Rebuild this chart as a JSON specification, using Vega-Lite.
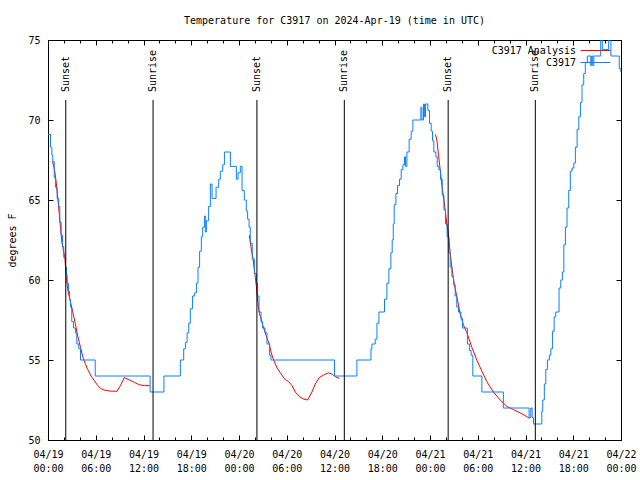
{
  "$schema": "https://vega.github.io/schema/vega-lite/v6.json",
  "width": 573,
  "height": 400,
  "autosize": {"type": "none"},
  "padding": {"left": 48, "top": 40, "right": 19, "bottom": 40},
  "background": "white",
  "title": {"text": "Temperature for C3917 on 2024-Apr-19 (time in UTC)", "font": "DejaVu Sans Mono", "fontSize": 10, "fontWeight": "normal", "color": "black", "offset": 1, "baseline": "alphabetic", "anchor": "middle", "frame": "group"},
  "config": {
    "view": {"stroke": "black", "strokeWidth": 1},
    "font": "DejaVu Sans Mono",
    "axis": {"domain": false, "grid": false, "title": null, "ticks": true, "tickColor": "black", "tickWidth": 1, "labelColor": "black", "labelFont": "DejaVu Sans Mono", "labelFontSize": 10, "labelOverlap": false, "labelFlush": false, "labelBound": false},
    "legend": {"labelFont": "DejaVu Sans Mono", "labelFontSize": 10, "labelColor": "black"}
  },
  "datasets": {
    "obs": [
      {"t":"2024-04-19T00:00Z","v":69.1},{"t":"2024-04-19T00:19Z","v":68.3},{"t":"2024-04-19T00:29Z","v":67.8},{"t":"2024-04-19T00:36Z","v":67.4},{"t":"2024-04-19T00:47Z","v":66.4},{"t":"2024-04-19T00:56Z","v":65.8},{"t":"2024-04-19T01:09Z","v":65.1},{"t":"2024-04-19T01:21Z","v":64.6},{"t":"2024-04-19T01:29Z","v":63.6},{"t":"2024-04-19T01:39Z","v":62.8},{"t":"2024-04-19T01:49Z","v":62.1},{"t":"2024-04-19T01:59Z","v":61.4},{"t":"2024-04-19T02:12Z","v":60.8},{"t":"2024-04-19T02:19Z","v":60.3},{"t":"2024-04-19T02:25Z","v":59.8},{"t":"2024-04-19T02:34Z","v":59.3},{"t":"2024-04-19T02:42Z","v":58.8},{"t":"2024-04-19T02:50Z","v":58.3},{"t":"2024-04-19T02:59Z","v":57.4},{"t":"2024-04-19T03:12Z","v":57.0},{"t":"2024-04-19T03:27Z","v":56.7},{"t":"2024-04-19T03:37Z","v":56.0},{"t":"2024-04-19T03:52Z","v":55.7},{"t":"2024-04-19T04:05Z","v":55.0},{"t":"2024-04-19T05:56Z","v":54.0},{"t":"2024-04-19T12:50Z","v":53.0},{"t":"2024-04-19T14:34Z","v":54.0},{"t":"2024-04-19T16:38Z","v":55.0},{"t":"2024-04-19T17:03Z","v":55.7},{"t":"2024-04-19T17:16Z","v":56.1},{"t":"2024-04-19T17:29Z","v":56.7},{"t":"2024-04-19T17:41Z","v":57.3},{"t":"2024-04-19T17:53Z","v":58.2},{"t":"2024-04-19T18:09Z","v":59.0},{"t":"2024-04-19T18:26Z","v":59.2},{"t":"2024-04-19T18:39Z","v":59.8},{"t":"2024-04-19T18:51Z","v":60.8},{"t":"2024-04-19T19:03Z","v":61.8},{"t":"2024-04-19T19:16Z","v":62.7},{"t":"2024-04-19T19:26Z","v":63.3},{"t":"2024-04-19T19:39Z","v":64.0},{"t":"2024-04-19T19:46Z","v":63.0},{"t":"2024-04-19T19:54Z","v":63.7},{"t":"2024-04-19T20:11Z","v":64.6},{"t":"2024-04-19T20:24Z","v":66.0},{"t":"2024-04-19T20:37Z","v":65.1},{"t":"2024-04-19T21:07Z","v":65.8},{"t":"2024-04-19T21:27Z","v":66.3},{"t":"2024-04-19T21:39Z","v":66.8},{"t":"2024-04-19T21:57Z","v":67.2},{"t":"2024-04-19T22:10Z","v":68.0},{"t":"2024-04-19T22:55Z","v":67.1},{"t":"2024-04-19T23:40Z","v":66.3},{"t":"2024-04-19T23:53Z","v":66.7},
      {"t":"2024-04-20T00:10Z","v":67.1},{"t":"2024-04-20T00:23Z","v":65.6},{"t":"2024-04-20T00:40Z","v":65.0},{"t":"2024-04-20T00:55Z","v":64.3},{"t":"2024-04-20T01:05Z","v":63.8},{"t":"2024-04-20T01:16Z","v":63.3},{"t":"2024-04-20T01:25Z","v":62.3},{"t":"2024-04-20T01:40Z","v":61.3},{"t":"2024-04-20T01:56Z","v":60.4},{"t":"2024-04-20T02:11Z","v":59.8},{"t":"2024-04-20T02:20Z","v":59.0},{"t":"2024-04-20T02:31Z","v":58.0},{"t":"2024-04-20T02:46Z","v":57.4},{"t":"2024-04-20T02:58Z","v":57.0},{"t":"2024-04-20T03:16Z","v":56.7},{"t":"2024-04-20T03:31Z","v":56.0},{"t":"2024-04-20T03:51Z","v":55.3},{"t":"2024-04-20T04:01Z","v":55.0},{"t":"2024-04-20T12:00Z","v":54.0},{"t":"2024-04-20T14:49Z","v":55.0},{"t":"2024-04-20T16:35Z","v":55.7},{"t":"2024-04-20T16:42Z","v":56.0},{"t":"2024-04-20T17:07Z","v":56.3},{"t":"2024-04-20T17:20Z","v":57.3},{"t":"2024-04-20T17:35Z","v":58.0},{"t":"2024-04-20T18:17Z","v":58.8},{"t":"2024-04-20T18:35Z","v":59.8},{"t":"2024-04-20T18:50Z","v":60.7},{"t":"2024-04-20T19:05Z","v":61.7},{"t":"2024-04-20T19:15Z","v":62.5},{"t":"2024-04-20T19:23Z","v":63.5},{"t":"2024-04-20T19:30Z","v":64.7},{"t":"2024-04-20T19:43Z","v":65.4},{"t":"2024-04-20T19:55Z","v":65.9},{"t":"2024-04-20T20:10Z","v":66.3},{"t":"2024-04-20T20:23Z","v":66.9},{"t":"2024-04-20T20:36Z","v":67.2},{"t":"2024-04-20T20:48Z","v":67.7},{"t":"2024-04-20T20:55Z","v":67.1},{"t":"2024-04-20T21:06Z","v":68.0},{"t":"2024-04-20T21:23Z","v":68.8},{"t":"2024-04-20T21:38Z","v":69.3},{"t":"2024-04-20T21:51Z","v":70.0},{"t":"2024-04-20T22:51Z","v":70.8},{"t":"2024-04-20T22:59Z","v":70.0},{"t":"2024-04-20T23:11Z","v":71.0},{"t":"2024-04-20T23:18Z","v":70.2},{"t":"2024-04-20T23:26Z","v":71.0},{"t":"2024-04-20T23:44Z","v":70.6},{"t":"2024-04-20T23:56Z","v":69.8},
      {"t":"2024-04-21T00:09Z","v":69.3},{"t":"2024-04-21T00:19Z","v":68.7},{"t":"2024-04-21T00:29Z","v":68.0},{"t":"2024-04-21T00:44Z","v":67.7},{"t":"2024-04-21T00:54Z","v":67.1},{"t":"2024-04-21T01:07Z","v":66.9},{"t":"2024-04-21T01:19Z","v":66.3},{"t":"2024-04-21T01:32Z","v":65.3},{"t":"2024-04-21T01:45Z","v":64.4},{"t":"2024-04-21T01:57Z","v":63.5},{"t":"2024-04-21T02:09Z","v":62.7},{"t":"2024-04-21T02:22Z","v":61.7},{"t":"2024-04-21T02:32Z","v":60.8},{"t":"2024-04-21T02:45Z","v":60.2},{"t":"2024-04-21T02:57Z","v":59.7},{"t":"2024-04-21T03:10Z","v":59.0},{"t":"2024-04-21T03:22Z","v":58.3},{"t":"2024-04-21T03:35Z","v":58.0},{"t":"2024-04-21T03:53Z","v":57.6},{"t":"2024-04-21T04:05Z","v":57.0},{"t":"2024-04-21T04:42Z","v":56.0},{"t":"2024-04-21T04:57Z","v":55.6},{"t":"2024-04-21T05:10Z","v":55.3},{"t":"2024-04-21T05:23Z","v":54.0},{"t":"2024-04-21T06:31Z","v":53.0},{"t":"2024-04-21T09:13Z","v":52.0},{"t":"2024-04-21T12:27Z","v":51.4},{"t":"2024-04-21T12:40Z","v":52.0},{"t":"2024-04-21T12:50Z","v":51.4},{"t":"2024-04-21T13:00Z","v":51.0},{"t":"2024-04-21T14:03Z","v":51.8},{"t":"2024-04-21T14:10Z","v":52.5},{"t":"2024-04-21T14:22Z","v":53.5},{"t":"2024-04-21T14:33Z","v":54.4},{"t":"2024-04-21T14:45Z","v":55.0},{"t":"2024-04-21T15:00Z","v":55.3},{"t":"2024-04-21T15:11Z","v":55.7},{"t":"2024-04-21T15:23Z","v":56.8},{"t":"2024-04-21T15:36Z","v":57.7},{"t":"2024-04-21T15:48Z","v":58.0},{"t":"2024-04-21T16:13Z","v":59.5},{"t":"2024-04-21T16:26Z","v":60.0},{"t":"2024-04-21T16:38Z","v":60.5},{"t":"2024-04-21T16:49Z","v":62.2},{"t":"2024-04-21T17:01Z","v":63.3},{"t":"2024-04-21T17:13Z","v":64.5},{"t":"2024-04-21T17:26Z","v":65.6},{"t":"2024-04-21T17:38Z","v":66.8},{"t":"2024-04-21T17:51Z","v":67.0},{"t":"2024-04-21T18:04Z","v":67.3},{"t":"2024-04-21T18:16Z","v":68.3},{"t":"2024-04-21T18:29Z","v":69.4},{"t":"2024-04-21T18:42Z","v":70.2},{"t":"2024-04-21T18:54Z","v":71.1},{"t":"2024-04-21T19:06Z","v":72.2},{"t":"2024-04-21T19:19Z","v":72.9},{"t":"2024-04-21T19:31Z","v":73.6},{"t":"2024-04-21T19:46Z","v":74.0},{"t":"2024-04-21T20:12Z","v":73.4},{"t":"2024-04-21T20:19Z","v":74.0},{"t":"2024-04-21T20:27Z","v":73.4},{"t":"2024-04-21T20:35Z","v":74.0},{"t":"2024-04-21T21:27Z","v":75.3},{"t":"2024-04-21T21:39Z","v":74.4},{"t":"2024-04-21T22:27Z","v":75.3},{"t":"2024-04-21T22:44Z","v":74.0},{"t":"2024-04-21T23:47Z","v":73.2},{"t":"2024-04-21T23:59Z","v":73.0}
    ],
    "analysis": [
      {"run":1,"t":"2024-04-19T00:34Z","v":67.4},{"run":1,"t":"2024-04-19T00:49Z","v":66.9},{"run":1,"t":"2024-04-19T01:02Z","v":66.1},{"run":1,"t":"2024-04-19T01:14Z","v":65.1},{"run":1,"t":"2024-04-19T01:24Z","v":64.2},{"run":1,"t":"2024-04-19T01:44Z","v":62.4},{"run":1,"t":"2024-04-19T02:07Z","v":61.4},{"run":1,"t":"2024-04-19T02:17Z","v":60.2},{"run":1,"t":"2024-04-19T02:29Z","v":59.4},{"run":1,"t":"2024-04-19T02:44Z","v":58.8},{"run":1,"t":"2024-04-19T03:07Z","v":58.0},{"run":1,"t":"2024-04-19T03:25Z","v":57.3},{"run":1,"t":"2024-04-19T03:44Z","v":56.5},{"run":1,"t":"2024-04-19T04:05Z","v":55.8},{"run":1,"t":"2024-04-19T04:22Z","v":55.2},{"run":1,"t":"2024-04-19T04:40Z","v":54.8},{"run":1,"t":"2024-04-19T05:00Z","v":54.4},{"run":1,"t":"2024-04-19T05:25Z","v":54.0},{"run":1,"t":"2024-04-19T05:50Z","v":53.7},{"run":1,"t":"2024-04-19T06:15Z","v":53.4},{"run":1,"t":"2024-04-19T06:41Z","v":53.2},{"run":1,"t":"2024-04-19T07:11Z","v":53.1},{"run":1,"t":"2024-04-19T07:56Z","v":53.05},{"run":1,"t":"2024-04-19T08:41Z","v":53.05},{"run":1,"t":"2024-04-19T09:06Z","v":53.4},{"run":1,"t":"2024-04-19T09:36Z","v":53.9},{"run":1,"t":"2024-04-19T10:14Z","v":53.75},{"run":1,"t":"2024-04-19T10:52Z","v":53.6},{"run":1,"t":"2024-04-19T11:29Z","v":53.45},{"run":1,"t":"2024-04-19T12:07Z","v":53.4},{"run":1,"t":"2024-04-19T12:47Z","v":53.4},
      {"run":2,"t":"2024-04-20T01:18Z","v":62.8},{"run":2,"t":"2024-04-20T01:33Z","v":61.9},{"run":2,"t":"2024-04-20T01:46Z","v":61.35},{"run":2,"t":"2024-04-20T01:58Z","v":60.5},{"run":2,"t":"2024-04-20T02:11Z","v":59.6},{"run":2,"t":"2024-04-20T02:20Z","v":58.75},{"run":2,"t":"2024-04-20T02:33Z","v":57.9},{"run":2,"t":"2024-04-20T02:46Z","v":57.6},{"run":2,"t":"2024-04-20T02:58Z","v":57.2},{"run":2,"t":"2024-04-20T03:18Z","v":56.7},{"run":2,"t":"2024-04-20T03:36Z","v":56.25},{"run":2,"t":"2024-04-20T03:49Z","v":56.0},{"run":2,"t":"2024-04-20T04:01Z","v":55.5},{"run":2,"t":"2024-04-20T04:21Z","v":55.0},{"run":2,"t":"2024-04-20T04:47Z","v":54.5},{"run":2,"t":"2024-04-20T05:12Z","v":54.2},{"run":2,"t":"2024-04-20T05:44Z","v":53.8},{"run":2,"t":"2024-04-20T06:14Z","v":53.65},{"run":2,"t":"2024-04-20T06:40Z","v":53.4},{"run":2,"t":"2024-04-20T07:04Z","v":53.0},{"run":2,"t":"2024-04-20T07:37Z","v":52.7},{"run":2,"t":"2024-04-20T08:07Z","v":52.56},{"run":2,"t":"2024-04-20T08:37Z","v":52.5},{"run":2,"t":"2024-04-20T09:10Z","v":53.0},{"run":2,"t":"2024-04-20T09:35Z","v":53.5},{"run":2,"t":"2024-04-20T10:05Z","v":53.9},{"run":2,"t":"2024-04-20T10:38Z","v":54.06},{"run":2,"t":"2024-04-20T11:15Z","v":54.2},{"run":2,"t":"2024-04-20T11:45Z","v":54.1},{"run":2,"t":"2024-04-20T12:06Z","v":53.96},{"run":2,"t":"2024-04-20T12:36Z","v":53.85},
      {"run":3,"t":"2024-04-21T00:41Z","v":69.1},{"run":3,"t":"2024-04-21T00:52Z","v":68.75},{"run":3,"t":"2024-04-21T01:04Z","v":67.8},{"run":3,"t":"2024-04-21T01:17Z","v":66.9},{"run":3,"t":"2024-04-21T01:30Z","v":65.9},{"run":3,"t":"2024-04-21T01:42Z","v":65.2},{"run":3,"t":"2024-04-21T01:54Z","v":64.4},{"run":3,"t":"2024-04-21T02:07Z","v":63.5},{"run":3,"t":"2024-04-21T02:19Z","v":62.9},{"run":3,"t":"2024-04-21T02:32Z","v":61.7},{"run":3,"t":"2024-04-21T02:45Z","v":60.8},{"run":3,"t":"2024-04-21T03:02Z","v":59.8},{"run":3,"t":"2024-04-21T03:22Z","v":58.96},{"run":3,"t":"2024-04-21T03:47Z","v":57.9},{"run":3,"t":"2024-04-21T04:12Z","v":57.2},{"run":3,"t":"2024-04-21T04:38Z","v":56.7},{"run":3,"t":"2024-04-21T05:15Z","v":55.8},{"run":3,"t":"2024-04-21T05:53Z","v":55.0},{"run":3,"t":"2024-04-21T06:31Z","v":54.3},{"run":3,"t":"2024-04-21T07:08Z","v":53.65},{"run":3,"t":"2024-04-21T07:58Z","v":53.0},{"run":3,"t":"2024-04-21T08:49Z","v":52.5},{"run":3,"t":"2024-04-21T09:39Z","v":52.1},{"run":3,"t":"2024-04-21T10:29Z","v":51.9},{"run":3,"t":"2024-04-21T11:19Z","v":51.7},{"run":3,"t":"2024-04-21T12:10Z","v":51.46},{"run":3,"t":"2024-04-21T12:29Z","v":51.35}
    ],
    "sun": [
      {"t":"2024-04-19T02:14Z","label":"Sunset"},{"t":"2024-04-19T13:12Z","label":"Sunrise"},
      {"t":"2024-04-20T02:15Z","label":"Sunset"},{"t":"2024-04-20T13:14Z","label":"Sunrise"},
      {"t":"2024-04-21T02:17Z","label":"Sunset"},{"t":"2024-04-21T13:14Z","label":"Sunrise"}
    ]
  },
  "layer": [
    {
      "data": {"name": "analysis"},
      "mark": {"type": "line", "strokeWidth": 1, "clip": true},
      "encoding": {
        "x": {"field": "t", "type": "temporal",
          "scale": {"type": "utc", "domain": [1713484800000, 1713744000000]},
          "axis": {"orient": "bottom", "values": [1713484800000, 1713506400000, 1713528000000, 1713549600000, 1713571200000, 1713592800000, 1713614400000, 1713636000000, 1713657600000, 1713679200000, 1713700800000, 1713722400000, 1713744000000],
            "offset": -5, "tickSize": 5, "labelPadding": 9, "labelBaseline": "top", "labelLineHeight": 14,
            "labelExpr": "[utcFormat(datum.value, '%m/%d'), utcFormat(datum.value, '%H:%M')]"}},
        "y": {"field": "v", "type": "quantitative",
          "scale": {"domain": [50, 75], "nice": false, "zero": false},
          "axis": {"orient": "left", "values": [50, 55, 60, 65, 70, 75], "offset": -5, "tickSize": 5, "labelPadding": 8,
            "title": "degrees F", "titleFont": "DejaVu Sans Mono", "titleFontSize": 10, "titleFontWeight": "normal", "titleColor": "black", "titlePadding": 10}},
        "detail": {"field": "run"},
        "color": {"datum": "C3917 Analysis", "type": "nominal",
          "scale": {"domain": ["C3917 Analysis", "C3917"], "range": ["#ff0000", "#0a80ff"]},
          "legend": {"title": null, "orient": "none", "legendX": 540.5, "legendY": 3.5, "symbolType": "M-2.3,0H2.3", "symbolSize": 169, "symbolStrokeWidth": 1, "labelAlign": "right", "labelOffset": -26.5, "rowPadding": 0, "padding": 0}}
      }
    },
    {
      "data": {"name": "obs"},
      "mark": {"type": "line", "strokeWidth": 1, "interpolate": "step-after", "clip": true},
      "encoding": {
        "x": {"field": "t", "type": "temporal",
          "axis": {"orient": "bottom", "values": [1713484800000, 1713492000000, 1713499200000, 1713506400000, 1713513600000, 1713520800000, 1713528000000, 1713535200000, 1713542400000, 1713549600000, 1713556800000, 1713564000000, 1713571200000, 1713578400000, 1713585600000, 1713592800000, 1713600000000, 1713607200000, 1713614400000, 1713621600000, 1713628800000, 1713636000000, 1713643200000, 1713650400000, 1713657600000, 1713664800000, 1713672000000, 1713679200000, 1713686400000, 1713693600000, 1713700800000, 1713708000000, 1713715200000, 1713722400000, 1713729600000, 1713736800000, 1713744000000],
            "offset": -3, "tickSize": 3, "labels": false}},
        "y": {"field": "v", "type": "quantitative",
          "axis": {"orient": "right", "values": [50, 55, 60, 65, 70, 75], "offset": -5, "tickSize": 5, "labels": false}},
        "color": {"datum": "C3917", "type": "nominal"}
      }
    },
    {
      "data": {"name": "sun"},
      "mark": {"type": "rule", "color": "black", "strokeWidth": 1},
      "encoding": {
        "x": {"field": "t", "type": "temporal",
          "axis": {"orient": "top", "values": [1713484800000, 1713506400000, 1713528000000, 1713549600000, 1713571200000, 1713592800000, 1713614400000, 1713636000000, 1713657600000, 1713679200000, 1713700800000, 1713722400000, 1713744000000], "offset": -5, "tickSize": 5, "labels": false}},
        "y": {"datum": 50, "type": "quantitative", "axis": null},
        "y2": {"datum": 71.25}
      }
    },
    {
      "data": {"name": "sun"},
      "mark": {"type": "text", "angle": 270, "align": "left", "baseline": "middle", "font": "DejaVu Sans Mono", "fontSize": 10, "color": "black"},
      "encoding": {
        "x": {"field": "t", "type": "temporal",
          "axis": {"orient": "top", "values": [1713484800000, 1713492000000, 1713499200000, 1713506400000, 1713513600000, 1713520800000, 1713528000000, 1713535200000, 1713542400000, 1713549600000, 1713556800000, 1713564000000, 1713571200000, 1713578400000, 1713585600000, 1713592800000, 1713600000000, 1713607200000, 1713614400000, 1713621600000, 1713628800000, 1713636000000, 1713643200000, 1713650400000, 1713657600000, 1713664800000, 1713672000000, 1713679200000, 1713686400000, 1713693600000, 1713700800000, 1713708000000, 1713715200000, 1713722400000, 1713729600000, 1713736800000, 1713744000000], "offset": -3, "tickSize": 3, "labels": false}},
        "y": {"datum": 71.75, "type": "quantitative", "axis": null},
        "text": {"field": "label"}
      }
    }
  ],
  "resolve": {"axis": {"x": "independent", "y": "independent"}}
}
